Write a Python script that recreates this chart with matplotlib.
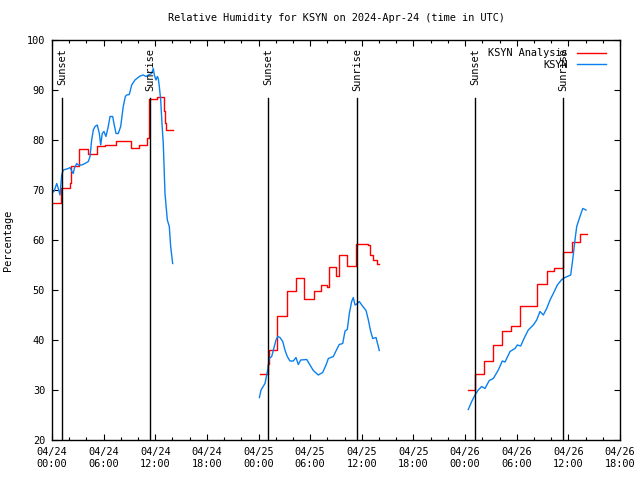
import datetime as dt
import matplotlib
matplotlib.use("Agg")
import matplotlib.pyplot as plt
import matplotlib.dates as mdates
from matplotlib.ticker import MultipleLocator

plt.rcParams['font.family'] = ['DejaVu Sans Mono']
FS = 7.4
plt.rcParams['font.size'] = FS

START = dt.datetime(2024, 4, 24, 0, 0)

# ---- data (time = hours since 2024-04-24 00:00 UTC) ----
# KSYN Analysis (red) - step values, 3 segments
red_t1 = [0.0, 1.05, 2.1, 2.2, 3.1, 4.2, 5.2, 6.2, 7.4, 9.2, 10.1, 11.0, 11.25, 12.2, 13.05, 13.15, 13.3, 14.02]
red_v1 = [67.3, 70.3, 71.3, 74.7, 78.1, 77.1, 78.7, 79.0, 79.8, 78.3, 79.0, 80.3, 88.1, 88.5, 85.7, 83.3, 82.0, 82.0]
red_t2 = [24.2, 25.1, 25.25, 26.2, 27.3, 28.35, 29.3, 30.4, 31.3, 32.0, 32.2, 33.0, 33.3, 34.25, 35.3, 36.7, 37.0, 37.3, 37.8, 38.03]
red_v2 = [33.3, 35.3, 38.1, 44.7, 49.7, 52.3, 48.1, 49.8, 51.0, 50.5, 54.5, 52.7, 57.0, 54.7, 59.2, 58.9, 57.0, 56.0, 55.2, 55.2]
red_t3 = [48.3, 49.2, 50.2, 51.3, 52.3, 53.3, 54.4, 56.3, 57.5, 58.3, 59.4, 60.4, 61.35, 62.13]
red_v3 = [30.0, 33.3, 35.7, 39.0, 41.7, 42.7, 46.7, 51.1, 53.8, 54.3, 57.5, 59.5, 61.1, 61.1]

# KSYN observations (blue), 3 segments
blue_t1 = [0.0, 0.23, 0.55, 0.73, 0.93, 1.13, 1.31, 1.89, 2.09, 2.29, 2.47, 2.59, 2.87, 3.06, 3.45, 3.83,
           4.22, 4.42, 4.61, 4.80, 5.0, 5.26, 5.50, 5.66, 5.84, 6.04, 6.27, 6.54, 6.74, 7.05, 7.20, 7.44,
           7.70, 7.98, 8.13, 8.28, 8.52, 8.68, 8.98, 9.26, 9.64, 10.23, 10.61, 10.92, 11.19, 11.58, 11.77,
           11.89, 12.08, 12.24, 12.35, 12.47, 12.63, 12.78, 12.93, 13.13, 13.40, 13.63, 13.79, 14.02]
blue_v1 = [69.5, 69.7, 71.3, 70.3, 69.0, 73.0, 74.0, 74.3, 74.5, 73.8, 73.3, 74.3, 75.3, 75.0, 75.0, 75.3,
           75.7, 76.7, 80.0, 82.0, 82.7, 83.0, 81.3, 79.0, 81.3, 81.7, 80.7, 82.7, 84.7, 84.7, 83.3, 81.3,
           81.3, 82.7, 84.7, 86.7, 88.7, 89.0, 89.1, 91.0, 92.0, 92.8, 93.0, 92.7, 93.0, 93.3, 94.3,
           93.0, 92.0, 92.7, 92.3, 90.7, 88.0, 83.3, 79.3, 69.3, 64.0, 62.7, 58.7, 55.3]
blue_t2 = [24.1, 24.29, 24.75, 25.06, 25.25, 25.53, 25.83, 26.03, 26.23, 26.49, 26.81, 27.07, 27.34, 27.65,
           28.04, 28.35, 28.62, 28.9, 29.6, 29.98, 30.36, 30.94, 31.45, 31.84, 32.11, 32.69, 33.08, 33.38,
           33.78, 34.05, 34.31, 34.55, 34.82, 35.01, 35.21, 35.41, 35.71, 35.99, 36.49, 36.76, 37.03,
           37.27, 37.65, 38.03]
blue_v2 = [28.5, 30.0, 31.3, 34.0, 36.3, 36.7, 38.7, 40.0, 40.7, 40.5, 39.7, 38.0, 36.7, 35.8,
           35.8, 36.5, 35.1, 36.0, 36.1, 35.0, 33.9, 33.0, 33.5, 35.0, 36.3, 36.7, 38.1, 39.1,
           39.3, 41.8, 42.1, 45.3, 47.7, 48.5, 47.0, 47.2, 47.7, 47.0, 45.9, 44.0, 41.7,
           40.3, 40.5, 37.9]
blue_t3 = [48.37, 48.77, 49.15, 49.53, 49.93, 50.31, 50.81, 51.28, 51.86, 52.32, 52.64, 53.22, 53.8, 54.07,
           54.46, 54.85, 55.34, 55.93, 56.32, 56.7, 57.09, 57.48, 57.87, 58.25, 58.72, 59.23, 59.61,
           60.27, 60.5, 60.77, 60.97, 61.35, 61.67, 62.05]
blue_v3 = [26.1, 27.7, 29.0, 30.0, 30.7, 30.3, 31.9, 32.3, 34.0, 35.8, 35.6, 37.7, 38.3, 39.0,
           38.8, 40.3, 42.0, 43.0, 44.0, 45.7, 45.0, 46.3, 48.0, 49.3, 51.0, 52.1, 52.5,
           53.0, 56.0, 60.0, 62.7, 64.7, 66.3, 66.0]

sun_t = [1.16, 11.39, 25.1, 35.44, 49.15, 59.38]
sun_lbl = ["Sunset", "Sunrise", "Sunset", "Sunrise", "Sunset", "Sunrise"]

def to_dt(hours):
    return [START + dt.timedelta(hours=h) for h in hours]

fig = plt.figure(figsize=(6.4, 4.8), dpi=100)
ax = fig.add_axes([52/640, 40/480, 568/640, 400/480])

RED = '#ff0000'
BLUE = '#0a80f0'
for i, (t, v) in enumerate([(red_t1, red_v1), (red_t2, red_v2), (red_t3, red_v3)]):
    ax.plot(to_dt(t), v, color=RED, lw=1.0, drawstyle='steps-post',
            label='KSYN Analysis' if i == 0 else None)
for i, (t, v) in enumerate([(blue_t1, blue_v1), (blue_t2, blue_v2), (blue_t3, blue_v3)]):
    ax.plot(to_dt(t), v, color=BLUE, lw=1.0, label='KSYN' if i == 0 else None)

for t, lbl in zip(sun_t, sun_lbl):
    x = START + dt.timedelta(hours=t)
    ax.axvline(x, ymin=0, ymax=0.855, color='black', lw=1.0)
    ax.text(x, 0.98, lbl, rotation=90, ha='center', va='top',
            transform=ax.get_xaxis_transform(), fontsize=FS)

ax.set_xlim(START, START + dt.timedelta(hours=66))
ax.set_ylim(20, 100)
ax.xaxis.set_major_locator(mdates.HourLocator(byhour=[0, 6, 12, 18]))
ax.xaxis.set_minor_locator(mdates.HourLocator(byhour=range(0, 24, 2)))
ax.xaxis.set_major_formatter(mdates.DateFormatter('%m/%d\n%H:%M'))
ax.yaxis.set_major_locator(MultipleLocator(10))
ax.tick_params(axis='both', which='both', direction='in', top=True, right=True,
               labelsize=FS, pad=5)
ax.tick_params(axis='both', which='major', length=4, width=0.8)
ax.tick_params(axis='x', which='minor', length=2, width=0.8)
for s in ax.spines.values():
    s.set_linewidth(1.0)

ax.set_ylabel('Percentage', fontsize=FS)
ax.yaxis.set_label_coords(-0.068, 0.5)
ax.set_title('Relative Humidity for KSYN on 2024-Apr-24 (time in UTC)', fontsize=FS, pad=14)

leg = ax.legend(loc='upper right', frameon=False, fontsize=FS, markerfirst=False,
                handlelength=2.8, borderaxespad=0.4, labelspacing=0.15, handletextpad=0.9,
                bbox_to_anchor=(1.0 - 6/568, 1.0))
for t in leg.get_texts():
    t.set_ha('right')

fig.savefig('out.png', dpi=100)
